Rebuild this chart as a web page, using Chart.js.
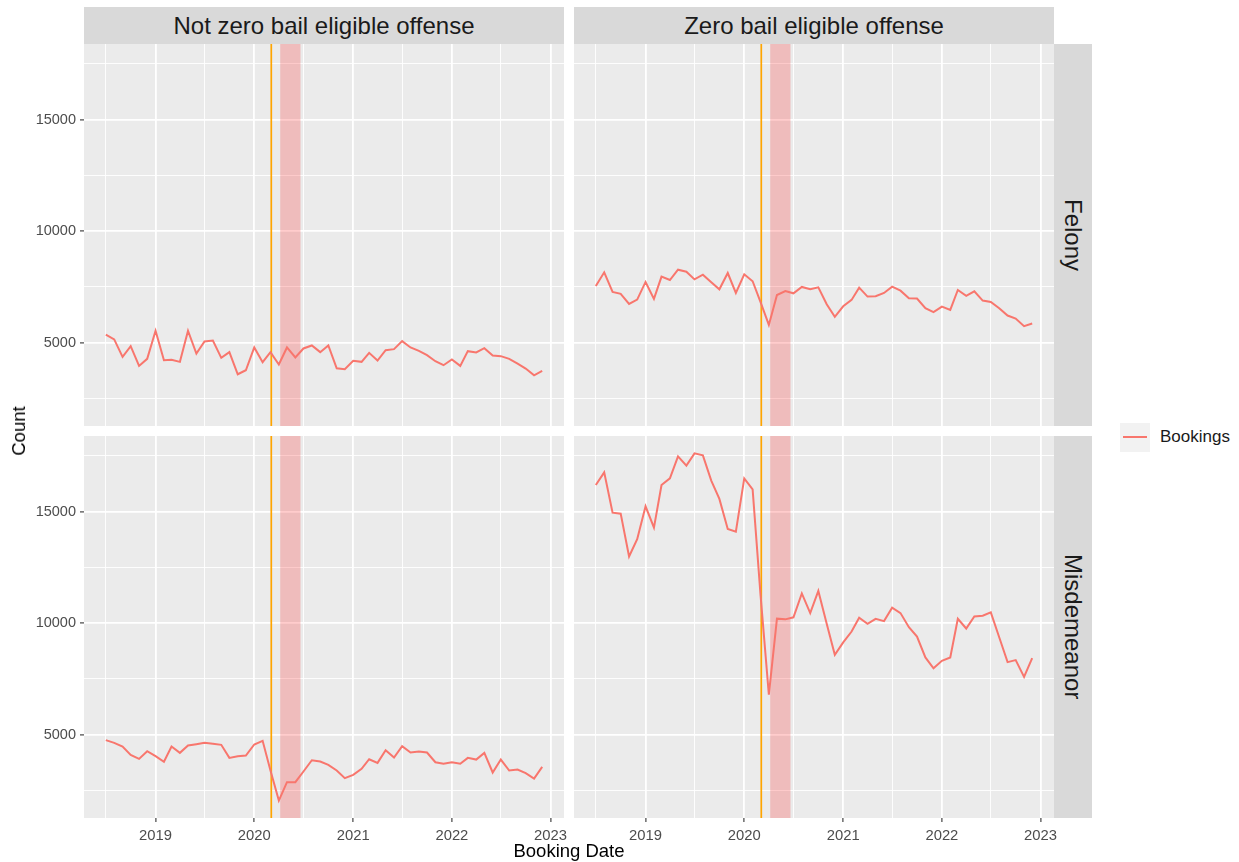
<!DOCTYPE html>
<html>
<head>
<meta charset="utf-8">
<script src="https://cdn.jsdelivr.net/npm/chart.js@4.4.1/dist/chart.umd.min.js"></script>
<style>
body { margin: 0; background: #fff; font-family: "Liberation Sans", Arial, sans-serif; }
#wrap { position: relative; width: 1239px; height: 862px; overflow: hidden; }
canvas { position: absolute; }
.strip { position: absolute; background: #D9D9D9; color: #1A1A1A; font-size: 24px;
  display: flex; align-items: center; justify-content: center; white-space: nowrap; }
.vstrip { writing-mode: vertical-rl; }
.title { position: absolute; color: #000; font-size: 18.5px; white-space: nowrap; }
#legKey { position: absolute; left: 1120px; top: 423px; width: 30px; height: 29px; background: #F2F2F2; }
#legKey div { position: absolute; left: 3px; top: 13px; width: 24px; height: 2px; background: #F8766D; }
#legText { position: absolute; left: 1160px; top: 427px; font-size: 17px; color: #1A1A1A; }
</style>
</head>
<body>
<div id="wrap">
  <canvas id="tl" width="564" height="382" style="left:0;top:44px;"></canvas>
  <canvas id="tr" width="480" height="382" style="left:574px;top:44px;"></canvas>
  <canvas id="bl" width="574" height="416" style="left:0;top:436px;"></canvas>
  <canvas id="br" width="494" height="416" style="left:574px;top:436px;"></canvas>

  <div class="strip" style="left:84px;top:7px;width:480px;height:37px;">Not zero bail eligible offense</div>
  <div class="strip" style="left:574px;top:7px;width:480px;height:37px;">Zero bail eligible offense</div>
  <div class="strip vstrip" style="left:1054px;top:44px;width:38px;height:382px;">Felony</div>
  <div class="strip vstrip" style="left:1054px;top:436px;width:38px;height:382px;">Misdemeanor</div>

  <div class="title" style="left:19px;top:431px;transform:translate(-50%,-50%) rotate(-90deg);">Count</div>
  <div class="title" style="left:569px;top:851px;transform:translate(-50%,-50%);">Booking Date</div>

  <div id="legKey"><div></div></div>
  <div id="legText">Bookings</div>
</div>
<script>
var months = [
  '2018-07','2018-08','2018-09','2018-10','2018-11','2018-12',
  '2019-01','2019-02','2019-03','2019-04','2019-05','2019-06','2019-07','2019-08','2019-09','2019-10','2019-11','2019-12',
  '2020-01','2020-02','2020-03','2020-04','2020-05','2020-06','2020-07','2020-08','2020-09','2020-10','2020-11','2020-12',
  '2021-01','2021-02','2021-03','2021-04','2021-05','2021-06','2021-07','2021-08','2021-09','2021-10','2021-11','2021-12',
  '2022-01','2022-02','2022-03','2022-04','2022-05','2022-06','2022-07','2022-08','2022-09','2022-10','2022-11','2022-12'
];

// not zero bail eligible, felony
var nzFelony = [5360,5150,4370,4850,3965,4280,5540,4220,4235,4145,5540,4520,5060,5100,4325,4580,3590,3770,
  4790,4130,4580,4025,4790,4340,4745,4880,4580,4880,3860,3815,4190,4145,4550,4205,4670,4715,5075,4790,
  4640,4445,4175,3995,4250,3965,4625,4565,4760,4430,4400,4280,4070,3845,3545,3740];
// zero bail eligible, felony
var zbFelony = [7545,8155,7275,7190,6740,6935,7725,6965,7960,7810,8275,8185,7840,8050,7710,7395,8125,7230,
  8065,7755,6830,5800,7140,7320,7215,7500,7395,7485,6725,6160,6635,6920,7470,7070,7085,7230,7515,7335,
  6995,6980,6550,6370,6620,6475,7365,7100,7305,6890,6830,6550,6220,6085,5745,5865];
// not zero bail eligible, misdemeanor
var nzMisd = [4760,4640,4475,4100,3920,4265,4040,3790,4475,4190,4520,4580,4640,4595,4550,3965,4040,4070,
  4565,4730,3400,2050,2875,2875,3355,3860,3800,3650,3400,3055,3205,3475,3905,3740,4310,3980,4490,4205,
  4250,4205,3770,3700,3770,3700,3965,3890,4190,3310,3890,3400,3445,3280,3040,3565];
// zero bail eligible, misdemeanor
var zbMisd = [16190,16755,14950,14905,12985,13760,15235,14280,16190,16485,17470,17055,17605,17515,16385,15565,14220,14100,
  16485,15995,11300,6800,10200,10170,10260,11330,10450,11445,9970,8585,9140,9625,10240,9970,10195,10090,10690,10450,
  9820,9400,8465,7980,8315,8465,10195,9760,10300,10330,10480,9370,8255,8345,7590,8435];

var yTicks = [2500, 5000, 7500, 10000, 12500, 15000, 17500];
var xTickDates = ['2018-07-01','2019-01-01','2019-07-01','2020-01-01','2020-07-01',
  '2021-01-01','2021-07-01','2022-01-01','2022-07-01','2023-01-01'];
var emergencyDate = '2020-03-04';
var bandStart = '2020-04-06';
var bandEnd = '2020-06-20';

Chart.defaults.font.family = '"Liberation Sans", Arial, sans-serif';

function day(s) {
  var p = s.split('-');
  return Date.UTC(+p[0], +p[1] - 1, p[2] ? +p[2] : 1) / 864e5;
}

// ggplot style 5% expansion on both scales
var allVals = nzFelony.concat(zbFelony, nzMisd, zbMisd);
var vLo = Math.min.apply(null, allVals), vHi = Math.max.apply(null, allVals);
var yMin = vLo - (vHi - vLo) * 0.05, yMax = vHi + (vHi - vLo) * 0.05;
var dLo = day(months[0]), dHi = day(months[months.length - 1]);
var xMin = dLo - (dHi - dLo) * 0.05, xMax = dHi + (dHi - dLo) * 0.05;

function isJan(v) { return new Date(v * 864e5).getUTCMonth() === 0; }

var panelDecor = {
  id: 'panelDecor',
  beforeDraw: function(c) {
    var a = c.chartArea;
    c.ctx.save();
    c.ctx.fillStyle = '#EBEBEB';
    c.ctx.fillRect(a.left, a.top, a.width, a.height);
    c.ctx.restore();
  },
  beforeDatasetsDraw: function(c) {
    var a = c.chartArea, x = c.scales.x, ctx = c.ctx;
    var x0 = x.getPixelForValue(day(bandStart)), x1 = x.getPixelForValue(day(bandEnd));
    var xv = x.getPixelForValue(day(emergencyDate));
    ctx.save();
    ctx.fillStyle = 'rgba(255,0,0,0.2)';
    ctx.fillRect(x0, a.top, x1 - x0, a.height);
    ctx.strokeStyle = '#FFA500';
    ctx.lineWidth = 1.7;
    ctx.beginPath();
    ctx.moveTo(xv, a.top);
    ctx.lineTo(xv, a.bottom);
    ctx.stroke();
    ctx.restore();
  }
};

// padRight leaves room for the last year label beyond the panel edge
function panelChart(id, values, showY, showX, padRight) {
  return new Chart(document.getElementById(id), {
    type: 'line',
    data: {
      datasets: [{
        label: 'Bookings',
        data: values.map(function(v, i) { return { x: day(months[i]), y: v }; }),
        borderColor: '#F8766D',
        borderWidth: 2,
        pointRadius: 0,
        tension: 0,
        fill: false
      }]
    },
    options: {
      responsive: false,
      animation: false,
      devicePixelRatio: 1,
      layout: { padding: { left: 0, top: 0, bottom: 0, right: padRight } },
      plugins: { legend: { display: false }, tooltip: { enabled: false } },
      scales: {
        x: {
          type: 'linear', min: xMin, max: xMax,
          afterBuildTicks: function(s) {
            s.ticks = xTickDates.map(function(d) { return { value: day(d) }; });
          },
          ticks: {
            display: showX, autoSkip: false, maxRotation: 0, color: '#4D4D4D',
            font: { size: 14.8 }, padding: 5,
            callback: function(v) { return isJan(v) ? String(new Date(v * 864e5).getUTCFullYear()) : ''; }
          },
          grid: {
            color: '#FFFFFF',
            lineWidth: function(c) { return c.tick && isJan(c.tick.value) ? 1.8 : 0.9; },
            drawTicks: showX, tickLength: 4, tickWidth: 1.1,
            tickColor: function(c) { return c.tick && isJan(c.tick.value) ? '#333333' : 'rgba(0,0,0,0)'; }
          },
          border: { display: false },
          afterFit: function(s) { s.height = showX ? 34 : 0; s.paddingLeft = 0; s.paddingRight = 0; }
        },
        y: {
          type: 'linear', min: yMin, max: yMax,
          afterBuildTicks: function(s) {
            s.ticks = yTicks.map(function(v) { return { value: v }; });
          },
          ticks: {
            display: showY, autoSkip: false, color: '#4D4D4D', font: { size: 14.5 }, padding: 4,
            callback: function(v) { return v % 5000 === 0 ? String(v) : ''; }
          },
          grid: {
            color: '#FFFFFF',
            lineWidth: function(c) { return c.tick && c.tick.value % 5000 === 0 ? 1.8 : 0.9; },
            drawTicks: showY, tickLength: 4, tickWidth: 1.1,
            tickColor: function(c) { return c.tick && c.tick.value % 5000 === 0 ? '#333333' : 'rgba(0,0,0,0)'; }
          },
          border: { display: false },
          afterFit: function(s) { s.width = showY ? 84 : 0; s.paddingTop = 0; s.paddingBottom = 0; }
        }
      }
    },
    plugins: [panelDecor]
  });
}

panelChart('tl', nzFelony, true, false, 0);
panelChart('tr', zbFelony, false, false, 0);
panelChart('bl', nzMisd, true, true, 10);
panelChart('br', zbMisd, false, true, 14);
</script>
</body>
</html>
